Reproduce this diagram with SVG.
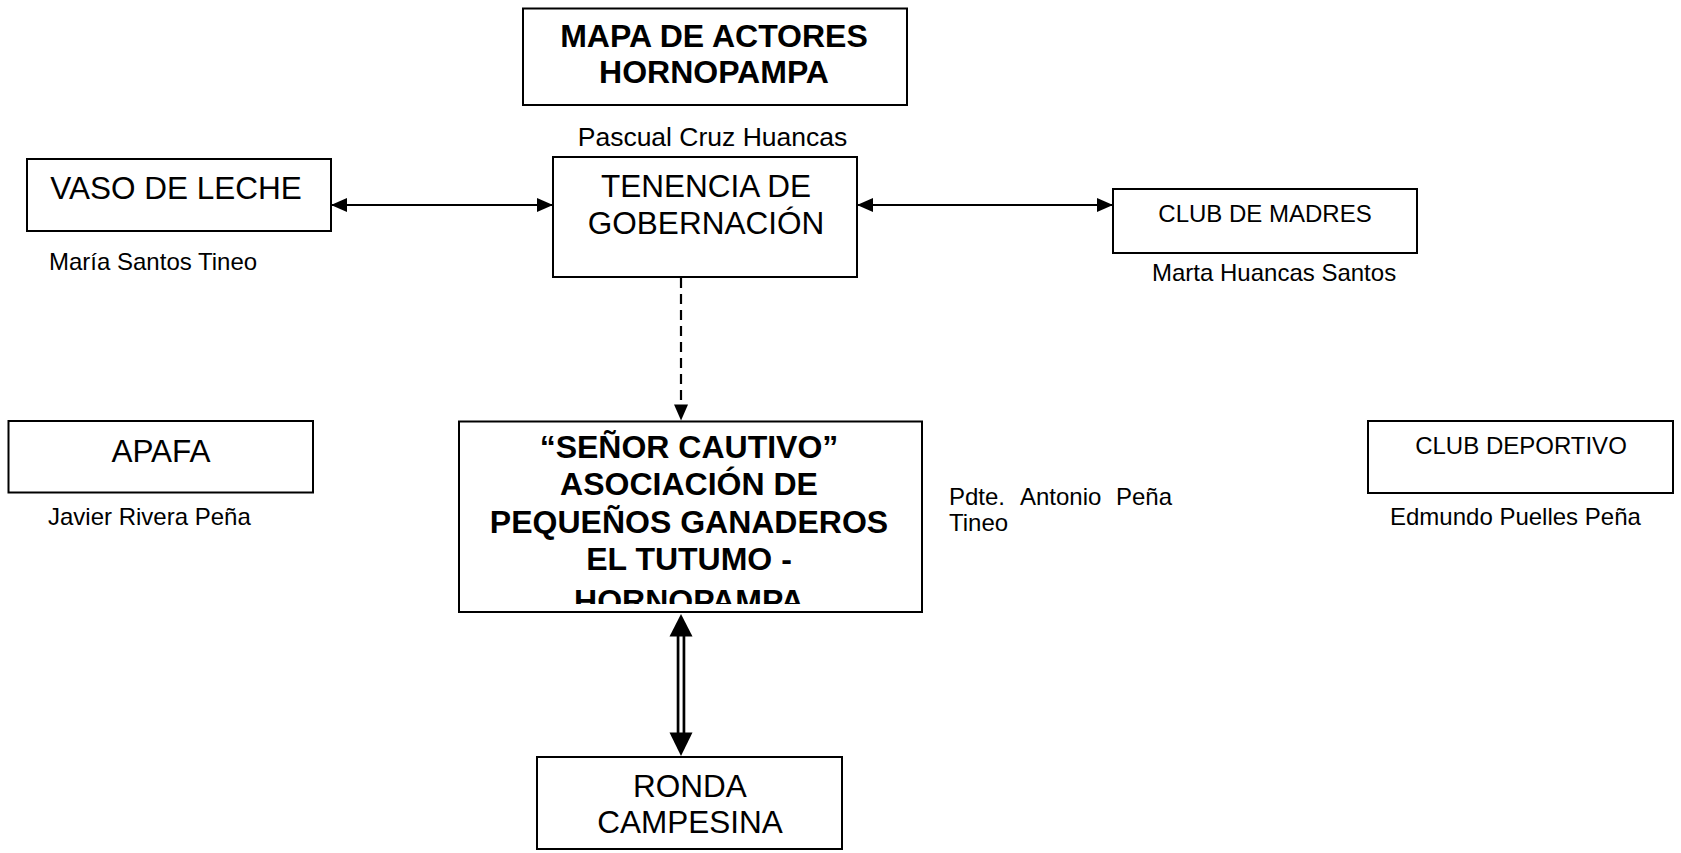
<svg xmlns="http://www.w3.org/2000/svg" width="1681" height="853" viewBox="0 0 1681 853">
  <style>
    .box { fill: #ffffff; stroke: #000000; stroke-width: 2; }
    .t { font-family: "Liberation Sans", Arial, sans-serif; fill: #000000; }
    .big { font-size: 31.5px; }
    .bold { font-weight: bold; font-size: 32px; }
    .small { font-size: 24px; }
    .mid { text-anchor: middle; }
    .conn { stroke: #000000; stroke-width: 2.2; fill: none; }
  </style>
  <defs>
    <marker id="ah" markerUnits="userSpaceOnUse" markerWidth="16" markerHeight="14" refX="16" refY="7" orient="auto-start-reverse">
      <path d="M0,0 L16,7 L0,14 Z" fill="#000000"/>
    </marker>
    <clipPath id="clipBig">
      <rect x="460" y="422" width="461" height="182"/>
    </clipPath>
  </defs>
  <rect width="1681" height="853" fill="#ffffff"/>

  <g id="connectors">
    <line class="conn" x1="331" y1="205" x2="553" y2="205" marker-start="url(#ah)" marker-end="url(#ah)"/>
    <line class="conn" x1="857" y1="205" x2="1113" y2="205" marker-start="url(#ah)" marker-end="url(#ah)"/>
    <line class="conn" x1="681" y1="278" x2="681" y2="406" stroke-width="2.6" stroke-dasharray="10 6"/>
    <path d="M674,404.5 L688,404.5 L681,420.5 Z" fill="#000000"/>
    <line x1="681" y1="634" x2="681" y2="735" stroke="#000000" stroke-width="8.6"/>
    <line x1="681" y1="634" x2="681" y2="735" stroke="#ffffff" stroke-width="3.2"/>
    <path d="M681,614 L692.5,636.5 L669.5,636.5 Z" fill="#000000"/>
    <path d="M681,756 L692.5,732.5 L669.5,732.5 Z" fill="#000000"/>
  </g>

  <g id="title">
    <rect class="box" x="523" y="8.5" width="384" height="96.5"/>
    <text class="t bold mid" x="714" y="47">MAPA DE ACTORES</text>
    <text class="t bold mid" x="714" y="83">HORNOPAMPA</text>
  </g>

  <g id="vaso-de-leche">
    <rect class="box" x="27" y="159" width="304" height="72"/>
    <text class="t big mid" x="176" y="199">VASO DE LECHE</text>
    <text class="t small" x="49" y="270">María Santos Tineo</text>
  </g>

  <g id="tenencia">
    <text class="t mid" x="712.5" y="146" font-size="26.5">Pascual Cruz Huancas</text>
    <rect class="box" x="553" y="157" width="304" height="120"/>
    <text class="t big mid" x="706" y="197">TENENCIA DE</text>
    <text class="t big mid" x="706" y="234">GOBERNACIÓN</text>
  </g>

  <g id="club-de-madres">
    <rect class="box" x="1113" y="189" width="304" height="64"/>
    <text class="t small mid" x="1265" y="221.5">CLUB DE MADRES</text>
    <text class="t small" x="1152" y="281">Marta Huancas Santos</text>
  </g>

  <g id="apafa">
    <rect class="box" x="8.5" y="421" width="304.5" height="71.5"/>
    <text class="t big mid" x="161" y="461.5">APAFA</text>
    <text class="t small" x="48" y="525">Javier Rivera Peña</text>
  </g>

  <g id="asociacion">
    <rect class="box" x="459" y="421.5" width="463" height="190.5"/>
    <g clip-path="url(#clipBig)">
      <text class="t bold mid" x="689" y="458">“SEÑOR CAUTIVO”</text>
      <text class="t bold mid" x="689" y="495">ASOCIACIÓN DE</text>
      <text class="t bold mid" x="689" y="533">PEQUEÑOS GANADEROS</text>
      <text class="t bold mid" x="689" y="570">EL TUTUMO -</text>
      <text class="t bold mid" x="689" y="612">HORNOPAMPA</text>
    </g>
    <text class="t small" y="505"><tspan x="949">Pdte.</tspan><tspan x="1020">Antonio</tspan><tspan x="1116">Peña</tspan></text>
    <text class="t small" x="949" y="531">Tineo</text>
  </g>

  <g id="club-deportivo">
    <rect class="box" x="1368" y="421" width="305" height="72"/>
    <text class="t small mid" x="1521" y="454">CLUB DEPORTIVO</text>
    <text class="t small" x="1390" y="525">Edmundo Puelles Peña</text>
  </g>

  <g id="ronda-campesina">
    <rect class="box" x="537" y="757" width="305" height="92"/>
    <text class="t big mid" x="690" y="797">RONDA</text>
    <text class="t big mid" x="690" y="833">CAMPESINA</text>
  </g>
</svg>
